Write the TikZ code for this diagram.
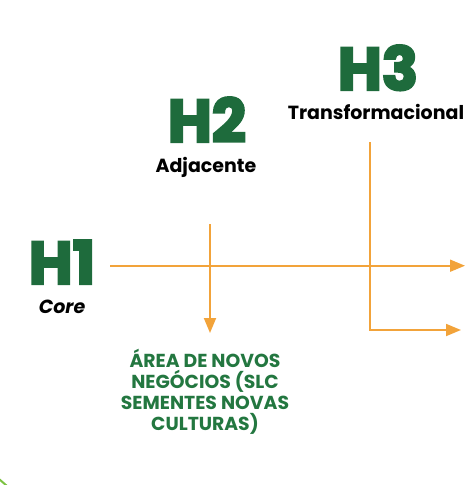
\documentclass[tikz,border=0pt]{standalone}
\usepackage{fontspec}
\setmainfont{Poppins}
\newfontfamily\heavyfont[FakeBold=4]{Poppins Bold}
\newfontfamily\areafont[FakeBold=0.6]{Poppins SemiBold}
\usetikzlibrary{arrows.meta}
\definecolor{hgreen}{HTML}{1E6B3C}
\definecolor{tgreen}{HTML}{237740}
\definecolor{lgreen}{HTML}{7CC242}
\definecolor{arrorange}{HTML}{F2A33A}
\tikzset{
  bigh/.style={text=hgreen, font=\heavyfont\fontsize{60}{60}\selectfont, inner sep=0pt, anchor=base, text depth=0pt, text height=42pt},
  sublabel/.style={text=black, font=\bfseries\fontsize{19}{19}\selectfont, inner sep=0pt, anchor=base, text height=13pt},
  arrline/.style={draw=arrorange, line width=1.8pt, -{Triangle[length=15pt,width=12pt]}},
  areatext/.style={text=tgreen, font=\bfseries\fontsize{18.8}{21}\selectfont, align=center, inner sep=0pt, anchor=north}
}
\begin{document}
\begin{tikzpicture}[x=1pt,y=-1pt]
\useasboundingbox (0,0) rectangle (465,485);
% headings
\node[bigh] (h3) at (378,90) {H3};
\node[sublabel] (t3) at (376,119) {Transformacional};
\node[bigh] (h2) at (207,142) {H2};
\node[sublabel] (t2) at (206,172) {Adjacente};
\node[bigh] (h1) at (62,284) {H1};
\node[sublabel, font=\bfseries\itshape\fontsize{19}{19}\selectfont] (t1) at (62,313) {Core};
\node[areatext] (area) at (205,349) {ÁREA DE NOVOS\\NEGÓCIOS (SLC\\SEMENTES NOVAS\\CULTURAS)};
% connector ends
\coordinate (a1s) at (110,265.7);
\coordinate (a1e) at (465,265.7);
\coordinate (a2s) at (210,224);
\coordinate (a2e) at (210,333);
\coordinate (a3s) at (370,142);
\coordinate (a3c) at (370,330);
\coordinate (a3e) at (461,330);
\draw[arrline] (a1s) -- (a1e);
\draw[arrline] (a2s) -- (a2e);
\draw[arrline] (a3s) -- (a3c) -- (a3e);
% corner fragment
\draw[lgreen, line width=2pt] (-1,479) -- (7,486);
\end{tikzpicture}
\end{document}
